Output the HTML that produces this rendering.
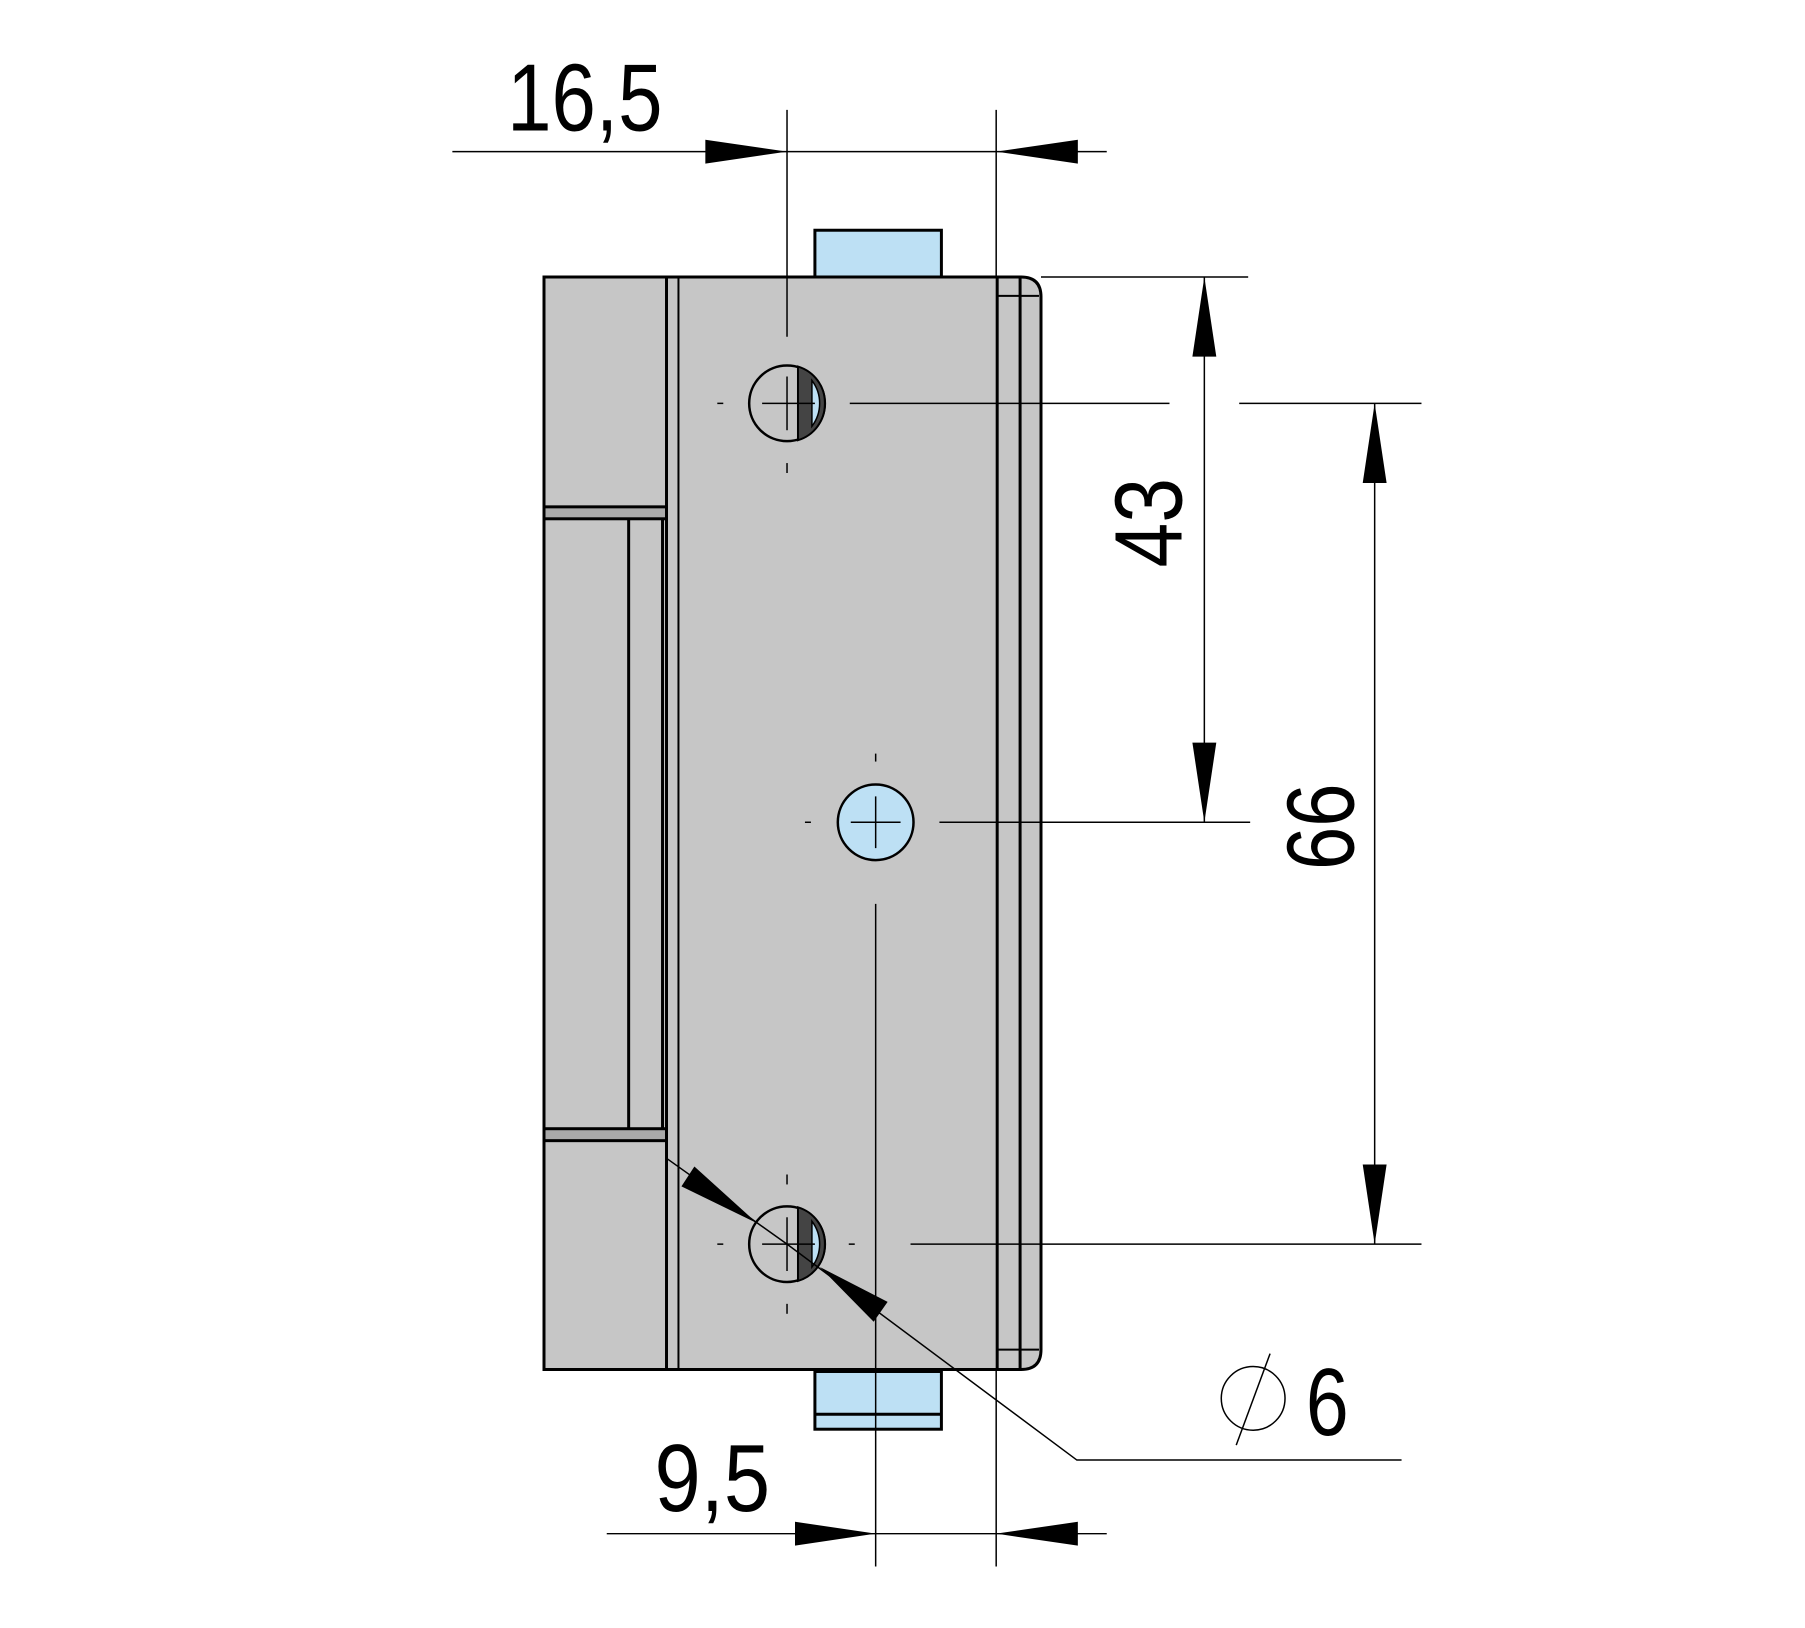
<!DOCTYPE html>
<html><head><meta charset="utf-8"><style>html,body{margin:0;padding:0;background:#fff}svg{display:block}</style></head>
<body>
<svg width="1805" height="1628" viewBox="0 0 1805 1628" xmlns="http://www.w3.org/2000/svg">
<g transform="translate(544,277) scale(0.996,0.995) translate(-546,-278)">
<g stroke="#000" stroke-width="3">
<rect x="818" y="231" width="127" height="47" fill="#bde0f4"/>
<rect x="818" y="1378" width="127" height="58" fill="#bde0f4"/>
<line x1="818" y1="1421" x2="945" y2="1421"/>
<path d="M546 278 H1025 Q1045 278 1045 298 V1356 Q1045 1376 1025 1376 H546 Z" fill="#c6c6c6"/>
<line x1="669" y1="278" x2="669" y2="1376"/>
<line x1="681" y1="278" x2="681" y2="1376" stroke-width="2"/>
<line x1="1001" y1="278" x2="1001" y2="1376"/>
<line x1="1024" y1="278" x2="1024" y2="1376"/>
<line x1="1001" y1="297" x2="1043" y2="297" stroke-width="2"/>
<line x1="1001" y1="1356" x2="1043" y2="1356" stroke-width="2"/>
<rect x="546" y="509" width="123" height="12" fill="#aaa"/>
<rect x="546" y="1134" width="123" height="12" fill="#aaa"/>
<line x1="631" y1="521" x2="631" y2="1134"/>
<line x1="665" y1="521" x2="665" y2="1134"/>
</g>
<g stroke="#000">
<circle cx="790" cy="405" r="38" fill="#c6c6c6" stroke-width="2.5"/>
<path d="M801 368 L801 442 A38 38 0 0 0 828 405 A38 38 0 0 0 801 368Z" fill="#444" stroke-width="2"/>
<path d="M815 382 A38 38 0 0 1 815 428 Z" fill="#bde0f4" stroke-width="1.5"/>
<circle cx="790" cy="1250" r="38" fill="#c6c6c6" stroke-width="2.5"/>
<path d="M801 1213 L801 1287 A38 38 0 0 0 828 1250 A38 38 0 0 0 801 1213Z" fill="#444" stroke-width="2"/>
<path d="M815 1227 A38 38 0 0 1 815 1273 Z" fill="#bde0f4" stroke-width="1.5"/>
<circle cx="879" cy="826" r="38" fill="#bde0f4" stroke-width="2.5"/>
</g>
<g stroke="#000" stroke-width="1.5" fill="none">
<line x1="765" y1="405" x2="818" y2="405"/><line x1="790" y1="378" x2="790" y2="432"/>
<line x1="720" y1="405" x2="726" y2="405"/><line x1="790" y1="465" x2="790" y2="475"/>
<line x1="765" y1="1250" x2="818" y2="1250"/><line x1="790" y1="1223" x2="790" y2="1277"/>
<line x1="720" y1="1250" x2="726" y2="1250"/><line x1="852" y1="1250" x2="858" y2="1250"/>
<line x1="790" y1="1180" x2="790" y2="1190"/><line x1="790" y1="1310" x2="790" y2="1320"/>
<line x1="854" y1="826" x2="904" y2="826"/><line x1="879" y1="800" x2="879" y2="852"/>
<line x1="808" y1="826" x2="814" y2="826"/><line x1="879" y1="757" x2="879" y2="765"/>
<line x1="790" y1="110" x2="790" y2="338"/>
<line x1="1000" y1="110" x2="1000" y2="278"/>
<line x1="454" y1="152" x2="1111" y2="152"/>
<line x1="1045" y1="278" x2="1253" y2="278"/>
<line x1="853" y1="405" x2="1174" y2="405"/>
<line x1="1244" y1="405" x2="1427" y2="405"/>
<line x1="943" y1="826" x2="1255" y2="826"/>
<line x1="914" y1="1250" x2="1427" y2="1250"/>
<line x1="1209" y1="278" x2="1209" y2="826"/>
<line x1="1380" y1="405" x2="1380" y2="1250"/>
<line x1="879" y1="908" x2="879" y2="1574"/>
<line x1="1000" y1="1376" x2="1000" y2="1574"/>
<line x1="609" y1="1541" x2="1111" y2="1541"/>
<polyline points="668,1163 790,1250 1081,1467 1407,1467"/>
</g>
<g fill="#000">
<polygon points="708,140 790,152 708,164"/>
<polygon points="1082,140 1000,152 1082,164"/>
<polygon points="798,1529 879,1541 798,1553"/>
<polygon points="1082,1529 1000,1541 1082,1553"/>
<polygon points="1197,358 1209,278 1221,358"/>
<polygon points="1197,746 1209,826 1221,746"/>
<polygon points="1368,485 1380,405 1392,485"/>
<polygon points="1368,1170 1380,1250 1392,1170"/>
<polygon points="760,1229 684,1192 697,1172"/>
<polygon points="823,1273 891,1308 877,1328"/>
</g>
<circle cx="1258" cy="1405" r="32" fill="none" stroke="#000" stroke-width="1.5"/>
<line x1="1241" y1="1452" x2="1275" y2="1360" stroke="#000" stroke-width="1.5"/>
<g font-family="Liberation Sans, sans-serif" font-size="96" fill="#000">
<text x="509" y="131" textLength="156" lengthAdjust="spacingAndGlyphs">16,5</text>
<text x="657" y="1518" textLength="116" lengthAdjust="spacingAndGlyphs">9,5</text>
<text x="1311" y="1442" textLength="43" lengthAdjust="spacingAndGlyphs">6</text>
<text transform="translate(1186,570) rotate(-90)" textLength="90" lengthAdjust="spacingAndGlyphs">43</text>
<text transform="translate(1359,874) rotate(-90)" textLength="87" lengthAdjust="spacingAndGlyphs">66</text>
</g>
</g>
</svg>
</body></html>
